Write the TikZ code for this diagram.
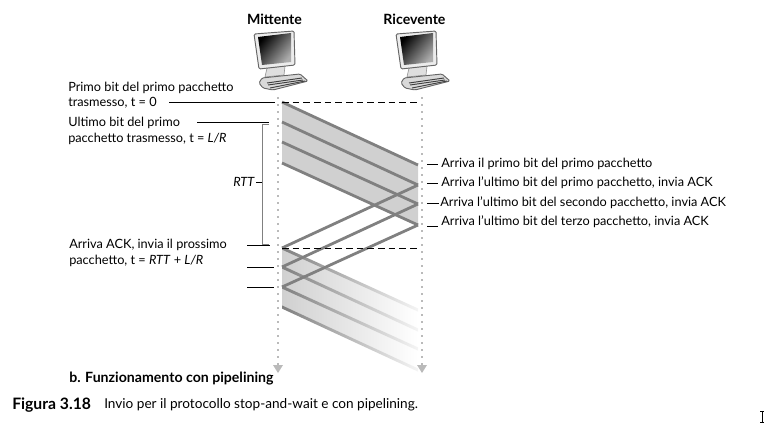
\documentclass[tikz,border=0pt]{standalone}
\usepackage{fontspec}
\setmainfont{Lato}
\usetikzlibrary{calc}
\definecolor{pktgray}{RGB}{128,128,128}
\definecolor{bandgray}{RGB}{208,208,208}
\definecolor{dotgray}{RGB}{186,186,186}
\tikzset{
	lab/.style = {inner sep=0pt, anchor=west, align=left, font=\fontsize{9.55}{11.7}\selectfont},
	head/.style = {inner sep=0pt, font=\fontsize{10.6}{12}\selectfont\bfseries},
	pkt/.style = {pktgray, line width=2.1pt},
	lead/.style = {black, line width=0.6pt},
	brace/.style = {gray, line width=0.6pt},
	dashline/.style = {black, line width=0.6pt, dash pattern=on 5pt off 3pt},
	timeline/.style = {dotgray, line width=1.9pt, dash pattern=on 1.7pt off 3.55pt},
	fadeband/.style = {left color=bandgray, right color=white},
	fadepkt/.style = {left color=pktgray, middle color=gray!60, right color=gray!8},
	computer/.pic = {
		\filldraw[gray!80, fill=gray!25, line width=0.5pt] (267,68) -- (285,66) -- (284,75) -- (265,77) -- cycle;
		\filldraw[black!60, fill=gray!15, line width=0.7pt, rounded corners=1pt] (254,34) -- (294,31) -- (295,65) -- (259,69) -- cycle;
		\shade[top color=black, bottom color=gray!65, shading angle=50] (258,37) -- (291,33) -- (291,62) -- (262,65) -- cycle;
		\filldraw[black!60, fill=gray!30, line width=0.7pt, rounded corners=1pt] (262,78) -- (300,74) -- (308,81) -- (273,90) -- (263,88) -- (259,83) -- cycle;
		\draw[black!75, line width=0.7pt] (267,83) -- (302,78);
		\draw[black!75, line width=0.7pt] (268,85) -- (303,80);
		\draw[black!75, line width=0.7pt] (270,88) -- (305,81);
	}
}
\begin{document}
\begin{tikzpicture}[x=0.75pt, y=-0.75pt]
	\useasboundingbox (0,0) rectangle (767,422);

	\coordinate (sA) at (282,102);
	\coordinate (sB) at (282,122);
	\coordinate (sC) at (282,142);
	\coordinate (sD) at (282,163);
	\coordinate (rA) at (418,165);
	\coordinate (rB) at (418,185);
	\coordinate (rC) at (418,204);
	\coordinate (rD) at (418,225);
	\coordinate (sE) at (282,248);
	\coordinate (sF) at (282,267);
	\coordinate (sG) at (282,287);
	\coordinate (sH) at (282,307);
	\coordinate (rE) at (418,310);
	\coordinate (rF) at (418,330);
	\coordinate (rG) at (418,349);
	\coordinate (rH) at (418,370);

	\node[head] (mittente) at (274.5,19) {Mittente};
	\node[head] (ricevente) at (414.5,19) {Ricevente};
	\pic (pcM) at (0,0) {computer};
	\pic (pcR) at (142,0) {computer};

	\coordinate (topM) at (278,97);
	\coordinate (endM) at (278,365);
	\coordinate (topR) at (422,97);
	\coordinate (endR) at (422,365);

	\fill[bandgray] (sA) -- (rA) -- (rD) -- (sD) -- cycle;
	\shade[fadeband] (sE) -- (rE) -- (rH) -- (sH) -- cycle;

	\draw[timeline] (topM) -- (endM);
	\draw[timeline] (topR) -- (endR);
	\fill[dotgray] (273,365) -- (283,365) -- (278,373) -- cycle;
	\fill[dotgray] (417,365) -- (427,365) -- (422,373) -- cycle;

	\draw[pkt] (sA) -- (rA);
	\draw[pkt] (sB) -- (rB);
	\draw[pkt] (sC) -- (rC);
	\draw[pkt] (sD) -- (rD);

	\foreach \a/\b in {sE/rE, sF/rF, sG/rG, sH/rH}
		\shade[fadepkt] ([yshift=1.2pt]\a) -- ([yshift=1.2pt]\b) -- ([yshift=-1.2pt]\b) -- ([yshift=-1.2pt]\a) -- cycle;

	\draw[pkt] (rB) -- (sE);
	\draw[pkt] (rC) -- (sF);
	\draw[pkt] (rD) -- (sG);

	\coordinate (dashB) at (420,102);
	\coordinate (dashE) at (418,248);
	\draw[dashline] (sA) -- (dashB);
	\draw[dashline] (sE) -- (dashE);

	\node[lab] (primo) at (68,95) {Primo bit del primo pacchetto\\trasmesso, t = 0};
	\node[lab] (ultimo) at (68,131) {Ultimo bit del primo\\pacchetto trasmesso, t = \textit{L/R}};
	\node[lab] (arriva) at (69,253) {Arriva ACK, invia il prossimo\\pacchetto, t = \textit{RTT} + \textit{L/R}};
	\node[lab] (rtt) at (233,182) {\textit{RTT}};

	\coordinate (pA) at (169,102);
	\coordinate (pB) at (275,102);
	\draw[lead] (pA) -- (pB);
	\coordinate (uA) at (197,122);
	\coordinate (uB) at (269,122);
	\draw[lead] (uA) -- (uB);
	\coordinate (aA) at (247,245);
	\coordinate (aB) at (270,245);
	\draw[lead] (aA) -- (aB);
	\coordinate (bA) at (247,267);
	\coordinate (bB) at (274,267);
	\draw[lead] (bA) -- (bB);
	\coordinate (cA) at (247,287);
	\coordinate (cB) at (274,287);
	\draw[lead] (cA) -- (cB);

	\coordinate (brT) at (269,124);
	\coordinate (brB) at (269,244);
	\draw[brace] (brT) -- (262,124) -- (262,244) -- (brB);
	\coordinate (tickR) at (262,182);
	\draw[lead] (256,182) -- (tickR);

	\node[lab] (arrA) at (441,164) {Arriva il primo bit del primo pacchetto};
	\node[lab] (arrB) at (441,183) {Arriva l’ultimo bit del primo pacchetto, invia ACK};
	\node[lab] (arrC) at (440,203) {Arriva l’ultimo bit del secondo pacchetto, invia ACK};
	\node[lab] (arrD) at (441,222) {Arriva l’ultimo bit del terzo pacchetto, invia ACK};
	\coordinate (tA) at (427,164);
	\coordinate (tB) at (427,183);
	\coordinate (tC) at (427,203);
	\coordinate (tD) at (427,226);
	\draw[lead] (tA) -- ++(11,0);
	\draw[lead] (tB) -- ++(11,0);
	\draw[lead] (tC) -- ++(12,0);
	\draw[lead] (tD) -- ++(11,0);

	\node[lab, font=\fontsize{10.6}{12}\selectfont\bfseries] (sub) at (69,379) {b. Funzionamento con pipelining};
	\node[lab, font=\fontsize{11.8}{13}\selectfont\bfseries] (fig) at (12,405) {Figura 3.18};
	\node[lab, font=\fontsize{10.2}{12}\selectfont] (cap) at (104,405) {Invio per il protocollo stop-and-wait e con pipelining.};

	\draw[black, line width=0.5pt] (760,411) -- (764,411);
	\draw[black, line width=0.5pt] (760,422) -- (764,422);
	\draw[black, line width=0.7pt] (762,411) -- (762,422);
\end{tikzpicture}
\end{document}
